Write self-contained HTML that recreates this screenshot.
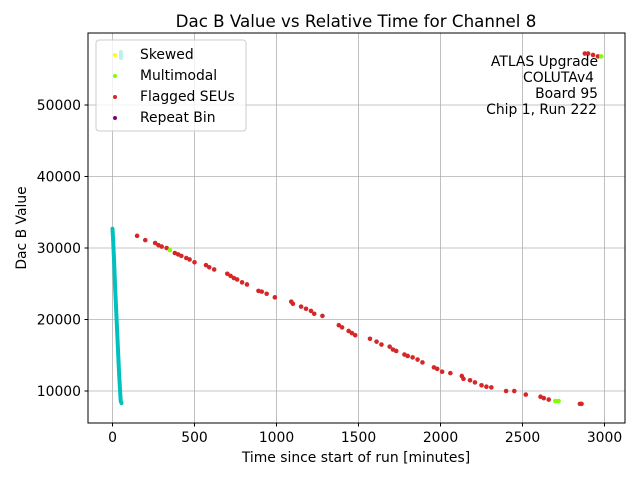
<!DOCTYPE html>
<html><head><meta charset="utf-8"><style>
body{margin:0;background:#fff;font-family:"Liberation Sans","DejaVu Sans",sans-serif;}
svg text{font-family:"DejaVu Sans","Liberation Sans",sans-serif;}
</style></head><body>
<svg id="chart" width="640" height="480" xmlns="http://www.w3.org/2000/svg">
<rect width="640" height="480" fill="#fff"/>
<g id="grid"></g>
<g id="marks"></g>
<rect x="88" y="33" width="537" height="390" fill="none" stroke="#000" stroke-width="1"/>
<g id="axes"></g>
<text x="356" y="27" text-anchor="middle" font-size="16.7">Dac B Value vs Relative Time for Channel 8</text>
<text x="356" y="462" text-anchor="middle" font-size="13.9">Time since start of run [minutes]</text>
<text transform="translate(26,228) rotate(-90)" text-anchor="middle" font-size="13.9">Dac B Value</text>
<g font-size="13.9" text-anchor="end">
<text x="598" y="66">ATLAS Upgrade</text>
<text x="594" y="82">COLUTAv4</text>
<text x="598" y="98">Board 95</text>
<text x="597" y="114">Chip 1, Run 222</text>
</g>
<g>
<rect x="96" y="40" width="150" height="91" rx="3" fill="#fff" fill-opacity="0.8" stroke="#ccc"/>
<g><circle cx="115" cy="55" r="2" fill="#ffff00"/><rect x="119" y="50" width="4" height="10" rx="2" fill="#bfeef0"/><text x="140" y="59" font-size="13.9">Skewed</text></g>
<g><circle cx="115" cy="76" r="2" fill="#7fff00"/><text x="140" y="80" font-size="13.9">Multimodal</text></g>
<g><circle cx="115" cy="97" r="2" fill="#d62728"/><text x="140" y="101" font-size="13.9">Flagged SEUs</text></g>
<g><circle cx="115" cy="118" r="2" fill="#800080"/><text x="140" y="122" font-size="13.9">Repeat Bin</text></g>
</g>
</svg>
<script>
const xTicks=[0,500,1000,1500,2000,2500,3000];
const yTicks=[10000,20000,30000,40000,50000];
const lineX=[0,3,6,10,15,20,25,30,35,40,45,50,55];
const lineY=[32700,31500,30000,28000,25000,22500,20000,17500,15000,12500,10500,8600,8300];
const seuX=[150,200,260,280,300,330,380,400,420,450,470,500,570,590,620,700,720,740,760,790,820,890,910,940,990,1090,1100,1150,1180,1210,1230,1280,1380,1400,1440,1460,1480,1570,1610,1640,1690,1710,1730,1780,1800,1830,1860,1890,1960,1980,2010,2060,2130,2140,2180,2210,2250,2280,2310,2400,2450,2520,2610,2630,2660,2850,2860,2880,2900,2930,2960];
const seuY=[31700,31100,30700,30400,30200,30000,29300,29100,28900,28600,28400,28000,27600,27300,27000,26400,26100,25800,25600,25200,24900,24000,23900,23600,23100,22500,22200,21800,21500,21200,20800,20500,19200,18900,18400,18100,17800,17300,16900,16500,16200,15800,15600,15100,14900,14700,14400,14000,13300,13100,12700,12500,12100,11700,11500,11200,10800,10600,10500,10000,10000,9500,9200,9000,8800,8200,8200,57200,57200,57000,56800];
const multiX=[350,2700,2720,2980];
const multiY=[29700,8600,8600,56800];
const NS='http://www.w3.org/2000/svg';
const sx=v=>112.5+v*(492/3000);
const sy=v=>391-(v-10000)*(286/40000);
const grid=document.getElementById('grid'),axes=document.getElementById('axes'),marks=document.getElementById('marks');
function mk(tag,attrs,parent){const e=document.createElementNS(NS,tag);for(const k in attrs)e.setAttribute(k,attrs[k]);parent.appendChild(e);return e;}
xTicks.forEach(t=>{const x=sx(t);
const g=mk('line',{x1:x,x2:x,y1:33,y2:423,stroke:'#b0b0b0','stroke-width':0.8},grid);


const tk=mk('line',{x1:x,x2:x,y1:423,y2:426.5,stroke:'#000'},axes);


const tl=mk('text',{x:x,y:442,'text-anchor':'middle','font-size':13.9},axes);tl.textContent=t;

});
yTicks.forEach(t=>{const y=sy(t);
const g=mk('line',{x1:88,x2:625,y1:y,y2:y,stroke:'#b0b0b0','stroke-width':0.8},grid);


const tk=mk('line',{x1:84.5,x2:88,y1:y,y2:y,stroke:'#000'},axes);


const tl=mk('text',{x:81,y:y+5,'text-anchor':'end','font-size':13.9},axes);tl.textContent=t;

});
const pl=mk('polyline',{points:lineX.map((v,i)=>sx(v)+','+sy(lineY[i])).join(' '),fill:'none',stroke:'#00c0c0','stroke-width':4,'stroke-linejoin':'round','stroke-linecap':'round'},marks);


seuX.forEach((v,i)=>{const c=mk('circle',{cx:sx(v),cy:sy(seuY[i]),r:2.3,fill:'#d62728'},marks);

});
multiX.forEach((v,i)=>{const c=mk('circle',{cx:sx(v),cy:sy(multiY[i]),r:2.3,fill:'#7fff00'},marks);

});
</script>
</body></html>
